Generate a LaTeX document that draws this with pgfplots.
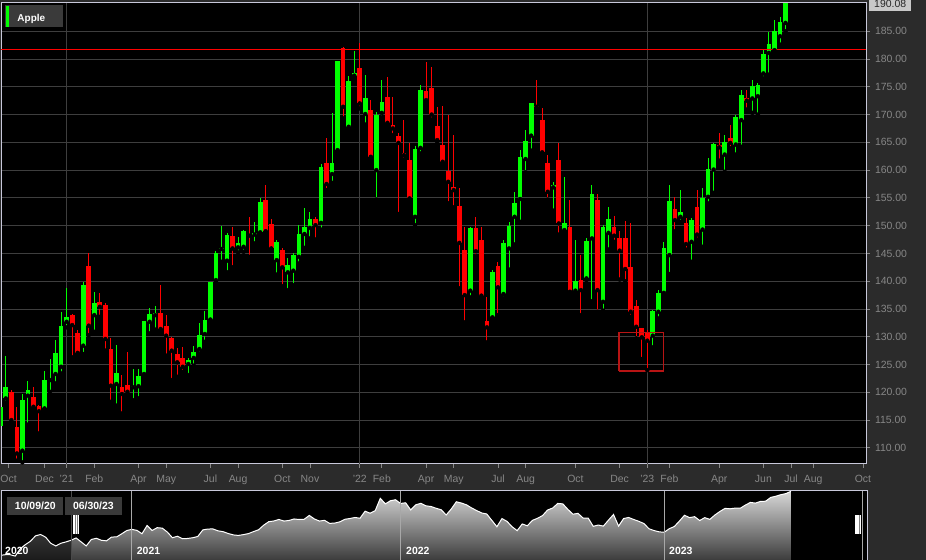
\documentclass[border=0pt]{standalone}
\usepackage{fontspec}
\setmainfont{Liberation Sans}
\usepackage{pgfplots}
\usepackage{pgfplotstable}
\pgfplotsset{compat=1.18}

\definecolor{panel}{HTML}{2B2B2B}
\definecolor{gridc}{HTML}{3E3E3E}
\definecolor{framec}{HTML}{C8C8DA}
\definecolor{tickc}{HTML}{878787}
\definecolor{up}{HTML}{00FF00}
\definecolor{down}{HTML}{FF0000}
\definecolor{boxc}{HTML}{3A3A3A}
\definecolor{hilite}{HTML}{B81414}
\definecolor{lastc}{HTML}{C8C8C8}
\definecolor{navtop}{HTML}{D8D8D8}
\definecolor{navbot}{HTML}{3C3C3C}
\definecolor{navgrid}{HTML}{A8A8A8}
\definecolor{navsel}{HTML}{4A4A4A}

% weekly candles, week 0 = 10/09/20; rows before week 0 only show in the navigator
\pgfplotstableread{
i o h l c
-14 nan nan nan 95
-13 nan nan nan 96
-12 nan nan nan 96
-11 nan nan nan 94
-10 nan nan nan 105
-9 nan nan nan 111
-8 nan nan nan 116
-7 nan nan nan 124
-6 nan nan nan 126
-5 nan nan nan 122
-4 nan nan nan 113
-3 nan nan nan 109
-2 nan nan nan 113
-1 nan nan nan 115
0 114.0 117.8 112.3 117.4
1 118.9 126.5 118.1 120.9
2 120.0 120.4 114.3 115.0
3 113.7 117.3 107.7 109.0
4 109.5 119.7 107.4 118.6
5 119.4 122.1 114.2 120.4
6 119.1 120.9 116.8 117.4
7 117.6 117.7 112.6 116.6
8 117.1 123.9 116.7 122.2
9 122.2 126.0 120.1 122.4
10 123.3 129.5 121.6 127.0
11 124.6 134.4 123.4 131.9
12 132.7 138.7 131.7 133.6
13 133.9 134.1 126.3 132.1
14 130.6 131.3 126.9 127.1
15 128.4 139.8 126.9 139.3
16 142.8 145.0 130.3 132.0
17 133.9 138.0 130.9 136.1
18 136.2 137.8 133.6 135.4
19 135.8 136.0 127.5 129.6
20 127.8 129.7 118.3 121.2
21 121.5 128.6 117.6 123.4
22 120.9 123.1 116.2 119.7
23 121.3 127.2 119.7 120.1
24 120.9 124.2 118.6 121.2
25 121.1 124.2 118.9 123.0
26 123.3 132.9 123.1 132.8
27 132.7 135.1 130.6 134.1
28 133.9 135.5 131.3 134.2
29 134.3 139.4 131.1 131.4
30 132.0 134.0 126.6 130.2
31 129.8 129.9 122.2 127.5
32 126.9 128.0 122.8 125.4
33 126.1 128.2 123.7 124.6
34 125.1 126.1 123.1 125.8
35 126.2 128.4 124.8 127.3
36 127.8 132.5 127.0 130.3
37 130.5 134.6 129.1 133.0
38 133.1 139.9 133.0 139.8
39 140.2 145.4 139.9 145.0
40 145.8 150.0 143.5 146.0
41 143.7 148.6 141.6 148.3
42 148.2 149.8 142.5 145.9
43 146.1 148.0 145.2 146.8
44 146.2 149.3 145.3 149.0
45 148.4 151.6 144.4 148.2
46 148.4 150.7 146.8 148.6
47 148.8 154.9 148.6 154.3
48 154.7 157.3 148.6 149.0
49 150.3 151.2 145.6 145.9
50 143.8 147.5 141.2 147.0
51 145.7 145.9 139.1 142.5
52 141.6 144.1 138.4 142.9
53 141.9 145.1 139.3 144.7
54 144.4 150.2 143.2 148.5
55 148.5 153.1 146.0 149.7
56 149.6 152.4 147.7 151.2
57 151.2 151.6 147.5 150.1
58 150.5 161.1 149.3 160.5
59 161.3 165.7 156.4 157.5
60 159.3 170.2 157.7 161.3
61 163.6 179.7 163.3 179.6
62 182.0 182.1 169.3 171.4
63 167.8 176.9 167.5 176.0
64 177.0 181.4 176.9 177.5
65 178.3 182.8 171.1 172.0
66 170.1 177.1 168.2 173.0
67 170.8 172.6 162.1 162.4
68 160.0 170.5 154.7 170.0
69 170.3 176.2 169.5 172.2
70 173.2 176.7 168.1 168.5
71 168.1 173.2 166.3 167.5
72 166.1 166.6 152.1 164.9
73 163.1 169.0 161.9 162.7
74 161.8 164.9 154.6 154.9
75 151.6 164.3 150.1 163.8
76 164.0 175.3 163.0 174.5
77 174.2 179.5 172.0 172.6
78 174.8 178.5 169.1 170.0
79 167.9 171.4 165.1 165.4
80 164.6 171.5 161.2 161.5
81 159.8 170.0 154.0 157.9
82 156.9 166.4 153.3 156.4
83 153.5 156.7 138.7 146.9
84 145.6 149.7 132.6 137.5
85 138.3 149.8 137.1 149.6
86 149.5 151.6 144.5 145.4
87 147.4 149.8 137.1 137.4
88 132.9 137.2 129.0 131.7
89 133.5 142.0 133.4 141.6
90 142.7 143.4 133.9 138.9
91 137.7 147.4 136.9 146.9
92 145.9 150.7 142.1 150.0
93 151.6 156.1 146.6 154.0
94 154.8 163.6 150.7 162.3
95 162.0 167.2 159.6 165.2
96 166.2 172.1 163.5 172.0
97 171.6 176.2 171.0 171.4
98 169.0 171.1 163.0 163.2
99 161.3 162.7 154.7 156.1
100 156.9 157.8 152.7 157.3
101 161.8 164.8 148.4 150.4
102 149.2 158.7 148.6 150.4
103 149.7 154.7 138.0 138.1
104 138.3 147.4 137.8 140.0
105 140.2 144.7 133.9 138.4
106 140.5 147.8 140.2 147.2
107 147.7 157.4 136.4 155.7
108 154.6 155.7 134.5 138.4
109 136.3 150.1 134.7 149.7
110 148.7 153.4 145.7 151.2
111 149.8 151.8 147.1 148.2
112 147.7 149.0 140.3 145.5
113 147.7 150.9 140.0 142.2
114 142.6 150.4 133.6 134.5
115 135.5 136.6 129.7 131.8
116 131.5 131.6 126.0 129.9
117 130.6 131.2 124.0 129.3
118 130.2 134.8 128.1 134.6
119 134.5 138.5 133.3 137.8
120 137.9 147.1 137.7 145.9
121 144.7 157.4 141.3 154.5
122 153.0 155.1 149.0 151.0
123 151.6 156.4 150.7 152.4
124 150.5 151.3 145.7 146.7
125 147.1 151.3 143.5 151.0
126 153.4 156.4 147.5 148.4
127 149.3 156.7 146.2 154.9
128 155.2 162.1 154.0 160.2
129 160.1 164.9 155.9 164.7
130 164.6 166.7 161.7 164.1
131 162.8 166.3 159.7 165.1
132 165.7 168.1 163.9 164.9
133 164.6 169.9 162.8 169.6
134 169.0 174.4 164.2 173.5
135 173.0 174.5 170.9 172.5
136 172.9 176.3 170.3 175.1
137 173.3 175.7 170.0 175.3
138 177.4 181.6 176.5 180.9
139 181.1 184.9 177.2 182.7
140 181.6 187.1 181.3 185.0
141 184.1 187.5 182.6 186.6
142 186.5 190.08 185.0 190.0
}\weekly

\begin{document}
\begin{tikzpicture}
\fill[panel] (0,0) rectangle (926bp,560bp);
\path[use as bounding box] (0,0) rectangle (926bp,560bp);

% ---- price panel ----
\begin{axis}[
  at={(1bp,96bp)}, anchor=south west,
  scale only axis, width=865bp, height=461bp,
  axis background/.style={fill=black},
  xmin=0.13, xmax=156.55, ymin=107.1, ymax=190.08,
  axis line style={framec, line width=1bp},
  xtick={1.5,8,12,17,25,30,38,43,51,56,65,69,77,82,90,95,104,112,117,121,130,138,143,147,156},
  xticklabels={Oct,Dec,'21,Feb,Apr,May,Jul,Aug,Oct,Nov,'22,Feb,Apr,May,Jul,Aug,Oct,Dec,'23,Feb,Apr,Jun,Jul,Aug,Oct},
  ytick={110,115,...,185},
  xtick pos=left, ytick pos=right, yticklabel pos=right,
  tick align=outside, major tick length=4bp,
  tick style={color=tickc, line width=0.8bp},
  ymajorgrids, grid style={color=gridc, line width=0.8bp},
  extra x ticks={12,65,117}, extra x tick labels={},
  extra x tick style={grid=major, major tick length=0pt},
  ticklabel style={font=\fontsize{10.5}{12}\selectfont, text=tickc},
  xticklabel style={anchor=base, yshift=-14.8bp},
  yticklabel style={anchor=west, xshift=1.5bp, /pgf/number format/fixed, /pgf/number format/fixed zerofill, /pgf/number format/precision=2},
  /pgf/number format/assume math mode=true,
]
% wicks
\addplot[forget plot, only marks, mark=none,
  restrict expr to domain={\thisrow{c}-\thisrow{o}}{0:100},
  error bars/.cd, y dir=plus, y explicit, error mark=none,
  error bar style={color=up, line width=1bp}]
  table[x=i, y=l, y error plus expr={\thisrow{h}-\thisrow{l}}] {\weekly};
\addplot[forget plot, only marks, mark=none,
  restrict expr to domain={\thisrow{c}-\thisrow{o}}{-100:0},
  error bars/.cd, y dir=plus, y explicit, error mark=none,
  error bar style={color=down, line width=1bp}]
  table[x=i, y=l, y error plus expr={\thisrow{h}-\thisrow{l}}] {\weekly};
% bodies
\addplot[forget plot, only marks, mark=none,
  restrict expr to domain={\thisrow{c}-\thisrow{o}}{0:100},
  error bars/.cd, y dir=plus, y explicit, error mark=none,
  error bar style={color=up, line width=4.7bp}]
  table[x=i, y=o, y error plus expr={\thisrow{c}-\thisrow{o}}] {\weekly};
\addplot[forget plot, only marks, mark=none,
  restrict expr to domain={\thisrow{c}-\thisrow{o}}{-100:0},
  error bars/.cd, y dir=plus, y explicit, error mark=none,
  error bar style={color=down, line width=4.7bp}]
  table[x=i, y=c, y error plus expr={\thisrow{o}-\thisrow{c}}] {\weekly};
% reference line and highlight box
\addplot[down, line width=1bp] coordinates {(0.13,181.7) (156.55,181.7)};
\addplot[hilite, line width=1.2bp] coordinates {(111.9,123.85) (119.9,123.85) (119.9,130.75) (111.9,130.75) (111.9,123.85)};
\end{axis}

% ---- navigator (closes drawn above a floor of 88.2) ----
\begin{axis}[
  at={(1bp,0bp)}, anchor=south west,
  scale only axis, width=866bp, height=69.3bp,
  axis background/.style={fill=black},
  xmin=-13.81, xmax=157, ymin=0, ymax=102.7,
  axis line style={framec, line width=1bp},
  axis on top,
  xtick={12,65,117}, xticklabels={}, ytick=\empty, major tick length=0pt,
  xmajorgrids, grid style={color=navgrid, line width=0.8bp},
]
\addplot[draw=none, top color=navtop, bottom color=navbot] table[x=i, y expr=\thisrow{c}-88.2] {\weekly} \closedcycle;
\fill[black, opacity=0.55] (axis cs:-13.81,0) rectangle (axis cs:0.06,102.7);
\addplot[white, line width=1bp] table[x=i, y expr=\thisrow{c}-88.2] {\weekly};
\draw[navsel, line width=1bp] (axis cs:0.06,0) -- (axis cs:0.06,102.7);
\draw[navgrid, line width=1bp] (axis cs:156.15,0) -- (axis cs:156.15,102.7);
\end{axis}

% navigator handles
\fill[gray] (73bp,26bp) rectangle (79.3bp,45bp);
\fill[white] (73.4bp,26bp) rectangle (74.7bp,45bp);
\fill[white] (75.5bp,26bp) rectangle (76.8bp,45bp);
\fill[white] (77.6bp,26bp) rectangle (78.9bp,45bp);
\fill[gray] (854.9bp,26bp) rectangle (861.2bp,45bp);
\fill[white] (855.3bp,26bp) rectangle (856.6bp,45bp);
\fill[white] (857.4bp,26bp) rectangle (858.7bp,45bp);
\fill[white] (859.5bp,26bp) rectangle (860.8bp,45bp);

% navigator date boxes and year labels
\tikzset{navtxt/.style={text=white, inner sep=0pt, font=\bfseries\fontsize{10.5}{12}\selectfont}}
\node[navtxt, fill=boxc, minimum width=56bp, minimum height=17.7bp] at (35.3bp,53.8bp) {10/09/20};
\node[navtxt, fill=boxc, minimum width=56.7bp, minimum height=17.7bp] at (93.4bp,53.8bp) {06/30/23};
\node[navtxt, anchor=base west] at (5bp,6bp) {2020};
\node[navtxt, anchor=base west] at (136.7bp,6bp) {2021};
\node[navtxt, anchor=base west] at (406bp,6bp) {2022};
\node[navtxt, anchor=base west] at (669bp,6bp) {2023};

% legend
\fill[boxc] (4.7bp,532.7bp) rectangle (63.3bp,554.7bp);
\fill[up] (6bp,533bp) rectangle (8.7bp,554bp);
\node[anchor=base west, inner sep=0pt, text=white, font=\bfseries\fontsize{10}{12}\selectfont] at (17.3bp,538.3bp) {Apple};

% last price tag
\node[anchor=west, fill=lastc, text=black!85, inner xsep=5bp, inner ysep=2.5bp, font=\fontsize{10.5}{12}\selectfont] at (869bp,555.6bp) {190.08};
\end{tikzpicture}
\end{document}
